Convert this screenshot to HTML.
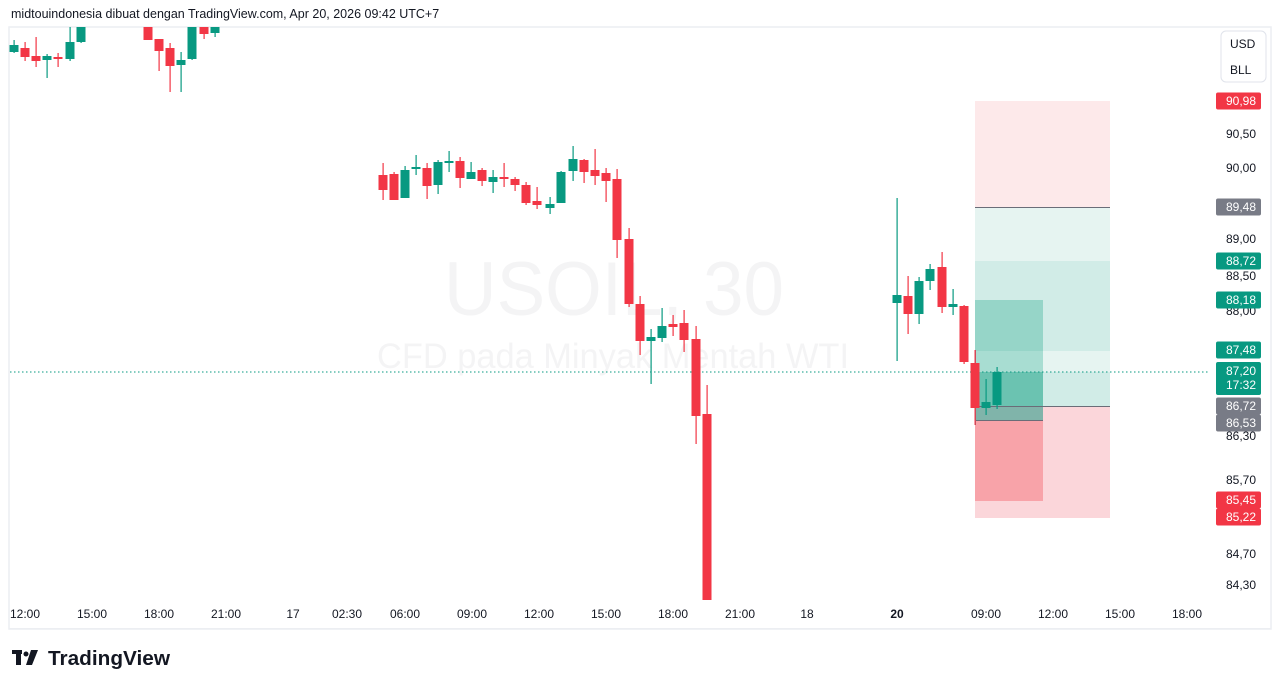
<!DOCTYPE html>
<html><head><meta charset="utf-8"><style>
html,body{margin:0;padding:0;background:#fff;}
body{width:1281px;height:688px;overflow:hidden;font-family:"Liberation Sans",sans-serif;}
</style></head><body>
<svg id="s" width="1281" height="688" xmlns="http://www.w3.org/2000/svg" font-family="Liberation Sans, sans-serif">
<text x="11" y="18" font-size="12.5" fill="#131722">midtouindonesia dibuat dengan TradingView.com, Apr 20, 2026 09:42 UTC+7</text>
<rect x="9" y="27" width="1262" height="602" fill="none" stroke="#eceef2" stroke-width="1.5"/>
<line x1="9" y1="628.5" x2="1271" y2="628.5" stroke="#eceef2"/>
<text x="614" y="315" font-size="76" fill="#f4f4f5" text-anchor="middle" textLength="340" lengthAdjust="spacingAndGlyphs">USOIL, 30</text>
<text x="613" y="368" font-size="35" fill="#f4f4f5" text-anchor="middle" textLength="472" lengthAdjust="spacingAndGlyphs">CFD pada Minyak Mentah WTI</text>
<rect x="975" y="101" width="135" height="106" fill="#fde9ea"/>
<rect x="975" y="207" width="135" height="54" fill="#e6f4f1"/>
<rect x="975" y="261" width="135" height="90" fill="#d1ece7"/>
<rect x="975" y="351" width="135" height="21" fill="#e6f4f1"/>
<rect x="975" y="372" width="135" height="34" fill="#d1ece7"/>
<rect x="975" y="406" width="135" height="112" fill="#fbd6da"/>
<rect x="975" y="300" width="68" height="51" fill="#96d5c8"/>
<rect x="975" y="351" width="68" height="21" fill="#a8ddd2"/>
<rect x="975" y="372" width="68" height="34" fill="#6bc3b1"/>
<rect x="975" y="406" width="68" height="14" fill="#80b4aa"/>
<rect x="975" y="420" width="68" height="81" fill="#f8a3a9"/>
<line x1="975" y1="207.5" x2="1110" y2="207.5" stroke="#6a6d78"/>
<line x1="975" y1="406.5" x2="1110" y2="406.5" stroke="#6a6d78"/>
<line x1="975" y1="420.5" x2="1043" y2="420.5" stroke="#6a6d78"/>
<line x1="975.5" y1="350" x2="975.5" y2="425" stroke="#787b86"/>
<line x1="10" y1="372" x2="1210" y2="372" stroke="#089981" stroke-dasharray="1.5,2.5"/>
<g id="c"></g>
<g id="ax" font-size="12" fill="#131722"></g>
<rect x="1221" y="31" width="45" height="51" rx="5" fill="#fff" stroke="#e0e3eb"/>
<text x="1230" y="48" font-size="12" fill="#131722">USD</text>
<text x="1230" y="74" font-size="12" fill="#131722">BLL</text>
<g transform="translate(12,650)"><rect x="0" y="0" width="10" height="4" fill="#131722"/><rect x="4" y="0" width="5" height="15" fill="#131722"/><circle cx="14" cy="4" r="2.5" fill="#131722"/><polygon points="19,0 26,0 20,15 14,15" fill="#131722"/></g>
<text x="48" y="665" font-size="20" font-weight="bold" fill="#131722" textLength="122" lengthAdjust="spacingAndGlyphs">TradingView</text>
</svg>
<script>
var G="#089981",R="#f23645",ns="http://www.w3.org/2000/svg";
var c=[
[14,G,45,52,40,53],[25,R,48,57,42,61],[36,R,56,61,37,67],[47,G,56,60,54,78],[58,R,57,59,53,67],[70,G,42,59,27,61],[81,G,27,42,27,43],
[148,R,27,40,27,40],[159,R,39,51,39,71],[170,R,48,66,43,92],[181,G,60,65,52,92],[192,G,27,59,27,60],[204,R,27,34,27,39],[215,G,27,33,27,37],
[383,R,175,190,163,200],[394,R,174,200,172,200],[405,G,170,198,166,198],[416,G,167,169,155,175],[427,R,168,186,163,199],[438,G,162,185,160,194],[449,G,161,162,151,172],[460,R,161,178,157,188],[471,G,172,179,162,179],[482,R,170,181,168,186],[493,G,177,182,170,193],[504,R,177,179,163,187],[515,R,179,185,177,191],[526,R,185,203,182,205],[537,R,201,205,187,209],
[550,G,204,208,197,214],[561,G,172,203,171,203],[573,G,159,171,146,181],[584,R,160,172,159,183],[595,R,170,176,149,185],[606,R,173,181,168,202],[617,R,179,240,169,258],[629,R,239,304,228,307],[640,R,304,341,296,355],[651,G,337,341,329,384],[662,G,326,338,308,342],[673,R,324,327,315,336],[684,R,323,340,310,352],[696,R,339,416,326,444],[707,R,414,600,385,600],
[897,G,295,303,198,361],[908,R,296,314,276,334],[919,G,281,314,277,324],[930,G,269,281,264,290],[942,R,267,307,252,313],[953,G,304,307,289,315],[964,R,306,362,305,364],[975,R,363,408,350,425],[986,G,402,408,379,415],[997,G,372,405,367,409]];
var g=document.getElementById("c");
function el(t,a,p){var e=document.createElementNS(ns,t);for(var k in a)e.setAttribute(k,a[k]);(p||g).appendChild(e);return e;}
c.forEach(function(d){el("rect",{x:d[0]-0.5,y:d[4],width:1.2,height:d[5]-d[4],fill:d[1]});el("rect",{x:d[0]-4.5,y:d[2],width:9,height:Math.max(2,d[3]-d[2]),fill:d[1]});});
var ax=document.getElementById("ax");
[["90,50",134],["90,00",168],["89,00",239],["88,50",276],["88,00",311],["86,30",436],["85,70",480],["84,70",554],["84,30",585]].forEach(function(l){var t=el("text",{x:1256,y:l[1]+4,"text-anchor":"end"},ax);t.textContent=l[0];});
[["90,98",101,R],["89,48",207,"#787b86"],["88,72",261,G],["88,18",300,G],["87,48",350,G],["86,72",406,"#787b86"],["86,53",423,"#787b86"],["85,45",500,R],["85,22",517,R]].forEach(function(l){el("rect",{x:1216,y:l[1]-8.5,width:45,height:17,rx:2,fill:l[2]},ax);var t=el("text",{x:1256,y:l[1]+4,"text-anchor":"end",fill:"#fff"},ax);t.textContent=l[0];});
el("rect",{x:1216,y:362,width:45,height:33,rx:2,fill:G},ax);
var t=el("text",{x:1256,y:375,"text-anchor":"end",fill:"#fff"},ax);t.textContent="87,20";
t=el("text",{x:1256,y:389,"text-anchor":"end",fill:"#fff"},ax);t.textContent="17:32";
[["12:00",25],["15:00",92],["18:00",159],["21:00",226],["17",293],["02:30",347],["06:00",405],["09:00",472],["12:00",539],["15:00",606],["18:00",673],["21:00",740],["18",807],["20",897],["09:00",986],["12:00",1053],["15:00",1120],["18:00",1187]].forEach(function(l){var t=el("text",{x:l[1],y:618,"text-anchor":"middle"},ax);if(l[0]=="20")t.setAttribute("font-weight","bold");t.textContent=l[0];});
</script>
</body></html>
